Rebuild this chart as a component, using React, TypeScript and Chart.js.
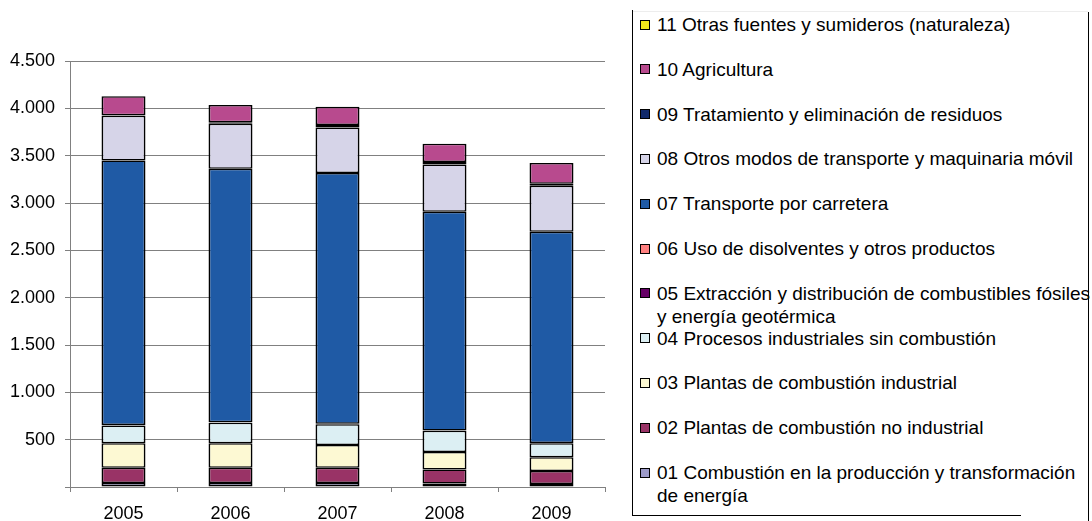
import React, { useEffect, useRef } from 'react';
import { Chart, registerables } from 'chart.js';

Chart.register(...registerables);

const FONT = "'Liberation Sans', Arial, sans-serif";

const categories = ['2005', '2006', '2007', '2008', '2009'];

// Series, bottom-up stacking order
const s01 = [43, 43, 43, 36, 32];
const s02 = [161, 161, 161, 150, 136];
const s03 = [257, 257, 239, 185, 146];
const s04 = [189, 218, 221, 222, 147];
const s05 = [3, 3, 3, 3, 3];
const s06 = [1, 1, 1, 1, 1];
const s07 = [2795, 2680, 2650, 2311, 2230];
const s08 = [473, 473, 480, 500, 487];
const s09 = [6, 17, 27, 24, 21];
const s10 = [199, 181, 192, 195, 220];
const s11 = [0, 0, 0, 0, 0];

const seriesData = [s01, s02, s03, s04, s05, s06, s07, s08, s09, s10, s11];

const seriesLabels = [
  ['01 Combustión en la producción y transformación', 'de energía'],
  ['02 Plantas de combustión no industrial'],
  ['03 Plantas de combustión industrial'],
  ['04 Procesos industriales sin combustión'],
  ['05 Extracción y distribución de combustibles fósiles', 'y energía geotérmica'],
  ['06 Uso de disolventes y otros productos'],
  ['07 Transporte por carretera'],
  ['08 Otros modos de transporte y maquinaria móvil'],
  ['09 Tratamiento y eliminación de residuos'],
  ['10 Agricultura'],
  ['11 Otras fuentes y sumideros (naturaleza)'],
];

const seriesColors = [
  '#9C9AC8',
  '#993366',
  '#FDF9D3',
  '#DCEFF3',
  '#660066',
  '#FF8080',
  '#1F5AA5',
  '#D6D4E8',
  '#10296B',
  '#B84A8E',
  '#F4E81C',
];

const yTickStep = 500;
const yMax = 4500;

function formatTick(v: number): string {
  if (v === 0) return '';
  const s = String(Math.round(v));
  return s.replace(/\B(?=(\d{3})+(?!\d))/g, '.');
}

export default function App() {
  const canvasRef = useRef<HTMLCanvasElement | null>(null);

  useEffect(() => {
    const canvas = canvasRef.current;
    if (!canvas) return;
    const chart = new Chart(canvas, {
      type: 'bar',
      data: {
        labels: categories,
        datasets: seriesData.map((d, i) => ({
          label: seriesLabels[i].join(' '),
          data: d,
          backgroundColor: seriesColors[i],
          borderColor: '#000000',
          borderWidth: { top: 1.5, bottom: 1.5, left: 1.8, right: 1.8 },
          borderSkipped: false,
          barPercentage: 0.411,
          categoryPercentage: 1,
        })),
      },
      options: {
        responsive: false,
        animation: false,
        devicePixelRatio: 1,
        layout: { padding: { top: 61, right: 25, left: 0, bottom: 0 } },
        plugins: {
          legend: { display: false },
          tooltip: { enabled: false },
          title: { display: false },
        },
        scales: {
          x: {
            stacked: true,
            grid: {
              display: true,
              drawOnChartArea: false,
              drawTicks: true,
              tickLength: 5,
              offset: true,
              color: '#808080',
            },
            border: { display: true, color: '#808080', width: 1 },
            ticks: {
              color: '#000',
              font: { family: FONT, size: 18 },
              padding: 11,
              maxRotation: 0,
            },
            afterFit: (s: any) => {
              s.height = 34;
            },
          },
          y: {
            stacked: true,
            min: 0,
            max: yMax,
            ticks: {
              stepSize: yTickStep,
              color: '#000',
              font: { family: FONT, size: 18 },
              padding: 10,
              callback: (v: any) => formatTick(Number(v)),
            },
            grid: { color: '#808080', drawTicks: true, tickLength: 5 },
            border: { display: true, color: '#808080', width: 1 },
            afterFit: (s: any) => {
              s.width = 70;
            },
          },
        },
      },
    });
    return () => chart.destroy();
  }, []);

  const itemCenters = [472.5, 427.7, 382.9, 338.1, 293.3, 248.5, 203.7, 158.9, 114.1, 69.3, 24.5];

  return (
    <div
      style={{
        position: 'fixed',
        left: 0,
        top: 0,
        width: 1092,
        height: 521,
        background: '#fff',
        overflow: 'hidden',
        fontFamily: FONT,
      }}
    >
      <canvas
        ref={canvasRef}
        width={630}
        height={521}
        style={{ position: 'absolute', left: 0, top: 0, width: 630, height: 521 }}
      />
      {/* legend frame */}
      <div style={{ position: 'absolute', left: 632, top: 10, width: 1, height: 506, background: '#000' }} />
      <div style={{ position: 'absolute', left: 632, top: 515, width: 389, height: 1, background: '#000' }} />
      <div style={{ position: 'absolute', left: 1088, top: 12, width: 1, height: 509, background: '#000' }} />
      <div style={{ position: 'absolute', left: 633, top: 11, width: 455, height: 1, background: '#EDEDED' }} />
      {seriesLabels.map((lines, i) => {
        const cy = itemCenters[i];
        return (
          <React.Fragment key={i}>
            <div
              style={{
                position: 'absolute',
                left: 640,
                top: cy - 5,
                width: 8,
                height: 8,
                background: seriesColors[i],
                border: '1px solid #000',
              }}
            />
            {lines.map((ln, j) => (
              <div
                key={j}
                style={{
                  position: 'absolute',
                  left: 657,
                  top: cy - 11.5 + j * 23.3,
                  height: 23,
                  lineHeight: '23px',
                  fontSize: 19,
                  color: '#000',
                  whiteSpace: 'nowrap',
                }}
              >
                {ln}
              </div>
            ))}
          </React.Fragment>
        );
      })}
    </div>
  );
}
